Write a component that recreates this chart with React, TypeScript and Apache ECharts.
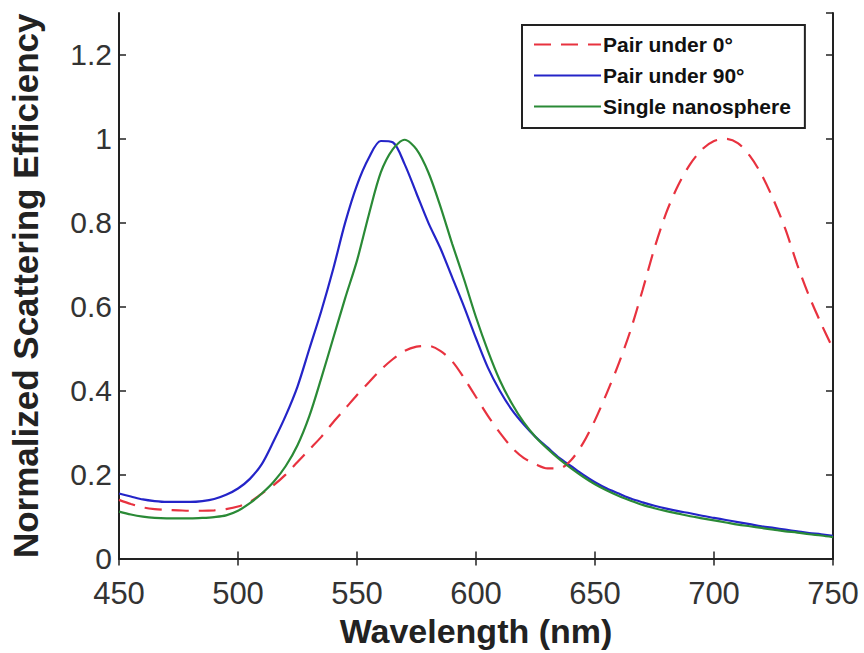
import React, { useEffect, useRef } from "react";
import * as echarts from "echarts";

const wavelengths = [
  450, 455, 460, 465, 470, 475, 480, 485, 490, 495, 500, 505, 510, 515, 520, 525, 530, 535, 540, 545,
  550, 555, 560, 565, 570, 575, 580, 585, 590, 595, 600, 605, 610, 615, 620, 625, 630, 635, 640, 645,
  650, 655, 660, 665, 670, 675, 680, 685, 690, 695, 700, 705, 710, 715, 720, 725, 730, 735, 740, 745, 750,
];

const pairUnder0 = [
  0.14, 0.13, 0.122, 0.118, 0.116, 0.115, 0.114, 0.114, 0.115, 0.118, 0.124, 0.135, 0.155, 0.175, 0.2, 0.23, 0.26, 0.29, 0.325, 0.357,
  0.39, 0.42, 0.45, 0.475, 0.495, 0.505, 0.507, 0.495, 0.47, 0.43, 0.385, 0.34, 0.3, 0.265, 0.24, 0.225, 0.215, 0.215, 0.235, 0.275,
  0.33, 0.395, 0.465, 0.545, 0.64, 0.74, 0.825, 0.89, 0.94, 0.975, 0.995, 1.0, 0.99, 0.96, 0.915, 0.855, 0.785, 0.7, 0.625, 0.56, 0.5,
];

const pairUnder90 = [
  0.155, 0.148, 0.141, 0.137, 0.135, 0.135, 0.135, 0.137, 0.142, 0.152, 0.167, 0.19, 0.225, 0.28, 0.34, 0.41, 0.5, 0.59, 0.69, 0.8,
  0.89, 0.955, 0.995, 0.992, 0.94, 0.87, 0.8, 0.74, 0.67, 0.6, 0.525, 0.455, 0.4, 0.355, 0.32, 0.29, 0.265, 0.24, 0.22, 0.2,
  0.182, 0.167, 0.155, 0.143, 0.134, 0.126, 0.119, 0.113, 0.108, 0.102, 0.097, 0.092, 0.087, 0.082, 0.077, 0.073, 0.069, 0.065, 0.061, 0.058, 0.054,
];

const singleNanosphere = [
  0.112, 0.105, 0.1, 0.097, 0.096, 0.096, 0.096, 0.097, 0.099, 0.103, 0.114, 0.132, 0.155, 0.183, 0.22, 0.27, 0.34, 0.43, 0.525, 0.62,
  0.71, 0.82, 0.92, 0.975, 0.998, 0.975, 0.92, 0.84, 0.75, 0.665, 0.575, 0.495, 0.425, 0.37, 0.325, 0.29, 0.262, 0.237, 0.215, 0.195,
  0.177, 0.162, 0.149, 0.138, 0.128, 0.12, 0.113, 0.107, 0.101, 0.096, 0.091, 0.086, 0.081, 0.077, 0.073, 0.069, 0.065, 0.062, 0.058, 0.055, 0.051,
];

const seriesNames = ["Pair under 0°", "Pair under 90°", "Single nanosphere"];

const pairs = (ys: number[]) => wavelengths.map((x, i) => [x, ys[i]]);

export default function App() {
  const ref = useRef<HTMLDivElement>(null);
  useEffect(() => {
    if (!ref.current) return;
    const chart = echarts.init(ref.current, undefined, { renderer: "svg" });
    const axisColor = "#222";
    const font = "'Liberation Sans', Arial, sans-serif";
    const hiddenAxisCommon = {
      axisLine: { show: true, lineStyle: { color: axisColor, width: 2 } },
      axisTick: { show: true, inside: true, length: 7, lineStyle: { color: axisColor, width: 1.5 } },
      axisLabel: { show: false },
      splitLine: { show: false },
    };
    chart.setOption({
      animation: false,
      backgroundColor: "#fff",
      grid: { left: 117, right: 31, top: 13, bottom: 93, containLabel: false },
      legend: {
        orient: "vertical",
        left: 522,
        top: 25,
        padding: [9, 14, 11, 11],
        itemWidth: 67,
        itemHeight: 20,
        itemGap: 10,
        borderColor: "#222",
        borderWidth: 2,
        backgroundColor: "#fff",
        itemStyle: { opacity: 0 },
        textStyle: { fontFamily: font, fontSize: 21, fontWeight: "bold", color: "#111", padding: [0, 0, 0, -3] },
        data: seriesNames,
      },
      xAxis: [
        {
          type: "value",
          min: 450,
          max: 750,
          interval: 50,
          name: "Wavelength (nm)",
          nameLocation: "middle",
          nameGap: 55,
          nameTextStyle: { fontFamily: font, fontSize: 34, fontWeight: "bold", color: "#222" },
          axisLine: { show: true, lineStyle: { color: axisColor, width: 2 } },
          axisTick: { show: true, inside: true, length: 7, lineStyle: { color: axisColor, width: 1.5 } },
          axisLabel: { fontFamily: font, fontSize: 31, lineHeight: 30, color: "#333", margin: 20 },
          splitLine: { show: false },
        },
        { type: "value", min: 450, max: 750, interval: 50, position: "top", ...hiddenAxisCommon },
      ],
      yAxis: [
        {
          type: "value",
          min: 0,
          max: 1.3,
          interval: 0.2,
          name: "Normalized Scattering Efficiency",
          nameLocation: "middle",
          nameGap: 76,
          nameTextStyle: { fontFamily: font, fontSize: 35, fontWeight: "bold", color: "#222" },
          axisLine: { show: true, lineStyle: { color: axisColor, width: 2 } },
          axisTick: { show: true, inside: true, length: 7, lineStyle: { color: axisColor, width: 1.5 } },
          axisLabel: { fontFamily: font, fontSize: 30, lineHeight: 26, color: "#333", margin: 7, showMaxLabel: false },
          splitLine: { show: false },
        },
        { type: "value", min: 0, max: 1.3, interval: 0.2, position: "right", ...hiddenAxisCommon },
      ],
      series: [
        {
          name: seriesNames[0],
          type: "line",
          data: pairs(pairUnder0),
          symbol: "none",
          smooth: 0.3,
          lineStyle: { color: "#e8323f", width: 2.2, type: [17, 10] },
          itemStyle: { color: "#e8323f" },
          z: 3,
        },
        {
          name: seriesNames[1],
          type: "line",
          data: pairs(pairUnder90),
          symbol: "none",
          smooth: 0.3,
          lineStyle: { color: "#2424c8", width: 2.2 },
          itemStyle: { color: "#2424c8" },
          z: 2,
        },
        {
          name: seriesNames[2],
          type: "line",
          data: pairs(singleNanosphere),
          symbol: "none",
          smooth: 0.3,
          lineStyle: { color: "#2a8a36", width: 2.2 },
          itemStyle: { color: "#2a8a36" },
          z: 4,
        },
      ],
    });
    return () => chart.dispose();
  }, []);
  return (
    <div
      ref={ref}
      style={{ position: "fixed", left: 0, top: 0, width: 864, height: 653, background: "#fff" }}
    />
  );
}
